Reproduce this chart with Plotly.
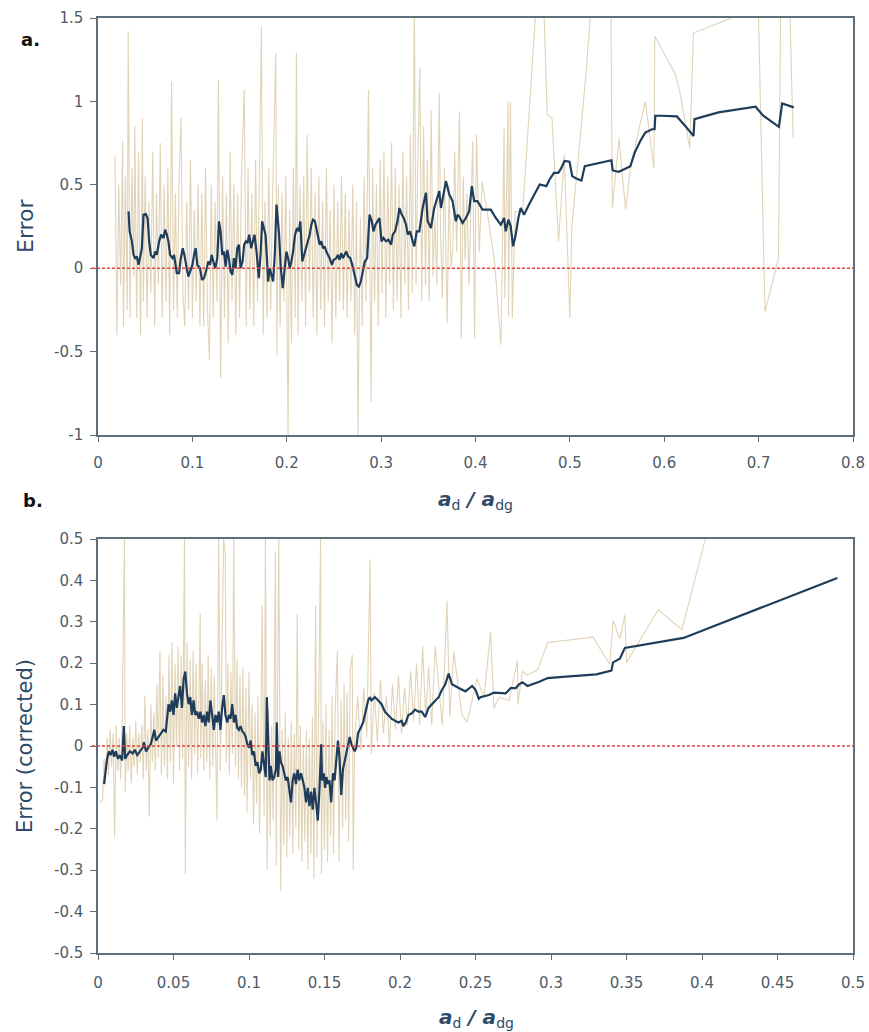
import plotly.graph_objects as go
from plotly.subplots import make_subplots

# ---------------- Panel a data ----------------
raw_a = [
    (0.018, 0.67), (0.020, -0.40), (0.022, 0.50), (0.024, -0.10), (0.026, 0.76), (0.027, -0.35), (0.029, 0.55),
    (0.031, -0.25), (0.032, 1.42), (0.034, -0.30), (0.036, 0.60), (0.038, -0.05), (0.039, 0.85), (0.041, -0.30),
    (0.043, 0.70), (0.045, -0.40), (0.047, 0.90), (0.048, -0.20), (0.050, 0.55), (0.052, -0.30), (0.054, 0.40),
    (0.056, -0.15), (0.058, 0.70), (0.060, -0.35), (0.062, 0.45), (0.064, -0.10), (0.066, 0.75), (0.068, -0.30),
    (0.070, 0.50), (0.072, -0.20), (0.074, 0.60), (0.076, -0.40), (0.078, 1.12), (0.080, -0.25), (0.082, 0.45),
    (0.084, -0.30), (0.086, 0.55), (0.088, 0.90), (0.090, -0.15), (0.092, -0.35), (0.094, 0.40), (0.096, -0.25),
    (0.098, 0.65), (0.100, -0.30), (0.102, 0.35), (0.104, -0.20), (0.106, 0.50), (0.108, -0.35), (0.110, 0.45),
    (0.112, -0.35), (0.114, 0.60), (0.116, -0.25), (0.118, -0.55), (0.120, 0.50), (0.122, -0.30), (0.124, 0.40),
    (0.126, -0.20), (0.1275, 1.13), (0.130, -0.66), (0.132, 0.55), (0.134, -0.30), (0.136, 0.45), (0.138, -0.45),
    (0.140, 0.70), (0.142, -0.20), (0.144, 0.50), (0.146, -0.40), (0.148, 0.45), (0.150, -0.30), (0.152, 0.55),
    (0.155, 1.07), (0.157, -0.35), (0.159, 0.60), (0.161, -0.25), (0.163, 0.45), (0.165, -0.35), (0.167, 0.65),
    (0.169, -0.20), (0.171, 0.55), (0.1732, 1.45), (0.175, -0.40), (0.177, 0.40), (0.179, -0.30), (0.181, 0.60),
    (0.183, -0.25), (0.185, 0.45), (0.1884, 1.29), (0.1895, -0.52), (0.191, 0.50), (0.193, -0.35), (0.195, 0.45),
    (0.197, -0.20), (0.199, 0.55), (0.2014, -1.00), (0.203, 0.35), (0.205, -0.45), (0.207, 0.60), (0.209, -0.30),
    (0.2102, 1.29), (0.212, -0.40), (0.214, 0.50), (0.216, -0.20), (0.218, 0.55), (0.220, -0.35), (0.2215, 0.80),
    (0.224, -0.15), (0.226, 0.60), (0.228, -0.30), (0.230, 0.45), (0.232, -0.40), (0.234, 0.55), (0.236, -0.25),
    (0.238, 0.40), (0.240, -0.35), (0.242, 0.60), (0.244, -0.20), (0.246, 0.35), (0.248, -0.45), (0.250, 0.50),
    (0.252, -0.30), (0.254, 0.40), (0.256, -0.20), (0.258, 0.55), (0.260, -0.25), (0.262, 0.45), (0.264, -0.30),
    (0.266, 0.35), (0.268, -0.20), (0.270, 0.50), (0.272, -0.40), (0.274, 0.40), (0.2754, -1.00), (0.278, 0.30),
    (0.280, -0.35), (0.282, 0.55), (0.284, -0.20), (0.2866, 1.07), (0.2894, -0.80), (0.291, 0.60), (0.293, -0.20),
    (0.295, 0.50), (0.297, -0.35), (0.299, 0.65), (0.301, -0.15), (0.303, 0.70), (0.305, -0.30), (0.307, 0.55),
    (0.309, -0.10), (0.311, 0.75), (0.313, -0.25), (0.315, 0.60), (0.317, -0.20), (0.319, 0.50), (0.321, -0.30),
    (0.323, 0.70), (0.325, -0.10), (0.327, 0.55), (0.329, -0.25), (0.331, 0.80), (0.333, -0.15), (0.3352, 1.60),
    (0.337, -0.10), (0.339, 0.70), (0.341, 1.20), (0.343, -0.20), (0.345, 0.85), (0.347, -0.10), (0.349, 0.65),
    (0.351, -0.20), (0.353, 0.95), (0.355, -0.05), (0.357, 0.30), (0.359, -0.10), (0.3616, 1.05), (0.363, 0.20),
    (0.365, -0.18), (0.367, 0.60), (0.370, -0.33), (0.372, 0.50), (0.374, 0.00), (0.376, 0.12), (0.378, 0.70),
    (0.380, 0.10), (0.383, 0.94), (0.385, -0.42), (0.387, 0.55), (0.389, 0.05), (0.391, 0.45), (0.393, -0.10),
    (0.395, 0.35), (0.397, 0.76), (0.399, -0.42), (0.401, 0.80), (0.404, 0.10), (0.407, 0.52), (0.412, 0.35),
    (0.420, 0.05), (0.427, -0.46), (0.429, 0.20), (0.4303, 0.84), (0.431, -0.18), (0.4345, 1.00), (0.435, -0.29),
    (0.437, 1.00), (0.439, -0.30), (0.442, 0.34), (0.450, 0.34), (0.467, 1.81), (0.471, 1.81), (0.476, 0.92),
    (0.481, 0.90), (0.488, 0.16), (0.494, 0.68), (0.500, -0.30), (0.502, 0.24), (0.517, 1.16), (0.527, 1.91),
    (0.543, 1.91), (0.545, 0.36), (0.552, 0.78), (0.559, 0.35), (0.564, 0.60), (0.571, 0.78), (0.580, 1.00),
    (0.589, 0.60), (0.590, 1.39), (0.612, 1.16), (0.617, 1.04), (0.627, 0.72), (0.631, 1.41), (0.671, 1.50),
    (0.698, 2.00), (0.7067, -0.26), (0.721, 0.06), (0.724, 2.00), (0.731, 2.00), (0.7366, 0.78),
]

mean_a = [
    (0.0324, 0.341), (0.0335, 0.221), (0.0359, 0.161), (0.0377, 0.080), (0.0394, 0.060), (0.0412, 0.070),
    (0.0430, 0.020), (0.0447, 0.080), (0.0465, 0.120), (0.0482, 0.321), (0.0507, 0.325), (0.0525, 0.301),
    (0.0542, 0.161), (0.0560, 0.080), (0.0588, 0.060), (0.0606, 0.100), (0.0623, 0.080), (0.0648, 0.161),
    (0.0669, 0.201), (0.0694, 0.181), (0.0711, 0.231), (0.0729, 0.201), (0.0746, 0.161), (0.0764, 0.080),
    (0.0789, 0.060), (0.0806, 0.080), (0.0835, -0.030), (0.0859, -0.030), (0.0877, 0.060), (0.0898, 0.120),
    (0.0915, 0.080), (0.0940, 0.000), (0.0958, -0.050), (0.0975, -0.020), (0.1000, 0.020), (0.1018, 0.080),
    (0.1035, 0.120), (0.1053, 0.020), (0.1081, 0.000), (0.1102, -0.070), (0.1123, -0.060), (0.1144, -0.020),
    (0.1169, 0.040), (0.1187, 0.020), (0.1204, 0.080), (0.1222, 0.040), (0.1243, 0.000), (0.1264, 0.060),
    (0.1282, 0.281), (0.1299, 0.221), (0.1317, 0.080), (0.1335, 0.100), (0.1352, 0.010), (0.1370, 0.110),
    (0.1387, 0.060), (0.1405, -0.020), (0.1423, -0.040), (0.1440, 0.060), (0.1458, 0.000), (0.1475, 0.120),
    (0.1493, 0.141), (0.1511, 0.000), (0.1532, 0.040), (0.1549, 0.141), (0.1567, 0.161), (0.1585, 0.151),
    (0.1602, 0.201), (0.1623, 0.120), (0.1641, 0.161), (0.1658, 0.201), (0.1680, 0.100), (0.1704, -0.060),
    (0.1722, 0.080), (0.1739, 0.281), (0.1757, 0.241), (0.1775, 0.201), (0.1792, 0.040), (0.1803, -0.080),
    (0.1820, 0.000), (0.1838, -0.040), (0.1856, -0.080), (0.1873, 0.080), (0.1891, 0.382), (0.1919, 0.201),
    (0.1937, 0.000), (0.1958, -0.120), (0.1979, 0.020), (0.1996, 0.100), (0.2014, 0.060), (0.2032, 0.000),
    (0.2049, 0.040), (0.2067, 0.100), (0.2088, 0.201), (0.2109, 0.241), (0.2127, 0.221), (0.2144, 0.281),
    (0.2165, 0.040), (0.2183, 0.080), (0.2201, 0.120), (0.2225, 0.161), (0.2243, 0.201), (0.2261, 0.261),
    (0.2278, 0.291), (0.2299, 0.281), (0.2313, 0.241), (0.2331, 0.201), (0.2349, 0.141), (0.2366, 0.161),
    (0.2384, 0.120), (0.2401, 0.131), (0.2419, 0.100), (0.2454, 0.060), (0.2479, 0.020), (0.2496, 0.050),
    (0.2525, 0.060), (0.2542, 0.080), (0.2560, 0.050), (0.2577, 0.090), (0.2595, 0.060), (0.2613, 0.080),
    (0.2630, 0.100), (0.2651, 0.070), (0.2673, 0.060), (0.2694, 0.020), (0.2718, -0.040), (0.2743, -0.100),
    (0.2764, -0.110), (0.2785, -0.080), (0.2806, -0.020), (0.2827, 0.040), (0.2852, 0.060), (0.2877, 0.321),
    (0.2901, 0.281), (0.2919, 0.221), (0.2940, 0.261), (0.2958, 0.281), (0.2982, 0.301), (0.3004, 0.161),
    (0.3025, 0.181), (0.3053, 0.161), (0.3077, 0.171), (0.3106, 0.141), (0.3123, 0.201), (0.3148, 0.221),
    (0.3173, 0.281), (0.3194, 0.361), (0.3218, 0.321), (0.3239, 0.301), (0.3264, 0.261), (0.3282, 0.201),
    (0.3306, 0.221), (0.3335, 0.161), (0.3352, 0.131), (0.3377, 0.221), (0.3405, 0.221), (0.3440, 0.361),
    (0.3475, 0.452), (0.3493, 0.281), (0.3528, 0.241), (0.3563, 0.361), (0.3616, 0.462), (0.3634, 0.361),
    (0.3669, 0.482), (0.3687, 0.522), (0.3722, 0.442), (0.3757, 0.402), (0.3792, 0.281), (0.3810, 0.321),
    (0.3827, 0.311), (0.3863, 0.271), (0.3898, 0.301), (0.3933, 0.341), (0.3961, 0.492), (0.3986, 0.402),
    (0.4021, 0.402), (0.4074, 0.351), (0.4162, 0.351), (0.4215, 0.301), (0.4268, 0.261), (0.4303, 0.301),
    (0.4320, 0.221), (0.4349, 0.291), (0.4373, 0.251), (0.4398, 0.131), (0.4426, 0.201), (0.4454, 0.301),
    (0.4479, 0.361), (0.4514, 0.321), (0.4567, 0.382), (0.4620, 0.442), (0.4680, 0.502), (0.4750, 0.492),
    (0.4785, 0.532), (0.4831, 0.572), (0.4877, 0.572), (0.4901, 0.592), (0.4944, 0.643), (0.4996, 0.639),
    (0.5025, 0.552), (0.5067, 0.538), (0.5123, 0.526), (0.5158, 0.612), (0.5440, 0.647), (0.5454, 0.586),
    (0.5518, 0.578), (0.5570, 0.592), (0.5641, 0.612), (0.5687, 0.693), (0.5746, 0.763), (0.5799, 0.813),
    (0.5870, 0.833), (0.5898, 0.833), (0.5905, 0.914), (0.5975, 0.914), (0.6134, 0.910), (0.6222, 0.853),
    (0.6310, 0.793), (0.6320, 0.894), (0.6574, 0.934), (0.6968, 0.968), (0.7049, 0.914), (0.7215, 0.847),
    (0.7250, 0.988), (0.7373, 0.964),
]

# ---------------- Panel b data ----------------
raw_b = [
    (0.001, -0.136), (0.003, -0.13), (0.004, -0.03), (0.005, -0.09), (0.006, 0.02), (0.007, -0.07), (0.008, 0.04),
    (0.009, -0.05), (0.010, 0.03), (0.011, -0.22), (0.012, 0.05), (0.013, -0.06), (0.014, 0.02), (0.015, -0.08),
    (0.016, 0.06), (0.0175, 0.50), (0.018, -0.11), (0.019, 0.03), (0.020, -0.06), (0.021, 0.05), (0.022, -0.09),
    (0.023, 0.02), (0.024, -0.05), (0.025, 0.06), (0.026, -0.07), (0.027, 0.03), (0.028, -0.04), (0.029, 0.05),
    (0.030, -0.08), (0.031, 0.12), (0.032, -0.06), (0.033, 0.04), (0.034, -0.17), (0.035, 0.10), (0.036, -0.04),
    (0.037, 0.08), (0.038, -0.06), (0.039, 0.15), (0.040, -0.03), (0.041, 0.23), (0.042, -0.07), (0.043, 0.17),
    (0.044, -0.05), (0.045, 0.12), (0.046, -0.08), (0.047, 0.22), (0.048, -0.04), (0.049, 0.25), (0.050, -0.09),
    (0.051, 0.20), (0.052, 0.00), (0.053, 0.24), (0.054, -0.06), (0.055, 0.22), (0.056, -0.03), (0.0573, 0.50),
    (0.0578, -0.31), (0.059, 0.25), (0.060, -0.05), (0.061, 0.21), (0.062, -0.08), (0.063, 0.23), (0.064, -0.02),
    (0.065, 0.20), (0.066, -0.07), (0.0677, 0.32), (0.068, -0.03), (0.069, 0.20), (0.070, -0.06), (0.071, 0.16),
    (0.072, -0.04), (0.073, 0.22), (0.074, -0.08), (0.075, 0.19), (0.076, -0.05), (0.077, 0.17), (0.0788, -0.18),
    (0.0799, 0.50), (0.081, -0.06), (0.0832, 0.50), (0.0843, 0.46), (0.085, -0.04), (0.086, 0.20), (0.087, -0.07),
    (0.088, 0.18), (0.089, -0.02), (0.0899, 0.50), (0.091, -0.05), (0.092, 0.21), (0.093, -0.08), (0.094, 0.17),
    (0.095, -0.10), (0.096, 0.19), (0.097, -0.12), (0.098, 0.14), (0.0987, -0.16), (0.100, 0.18), (0.101, -0.08),
    (0.102, 0.10), (0.103, -0.19), (0.104, 0.08), (0.105, -0.14), (0.106, 0.12), (0.107, -0.21), (0.108, 0.06),
    (0.1087, 0.34), (0.110, -0.17), (0.1109, 0.50), (0.112, -0.30), (0.113, 0.09), (0.114, -0.22), (0.115, 0.05),
    (0.116, -0.18), (0.1175, 0.47), (0.118, -0.29), (0.119, 0.10), (0.1197, 0.50), (0.121, -0.35), (0.122, 0.04),
    (0.123, -0.24), (0.124, 0.08), (0.125, -0.27), (0.126, 0.02), (0.127, -0.22), (0.128, 0.06), (0.129, -0.26),
    (0.130, 0.03), (0.131, -0.20), (0.1319, 0.32), (0.133, -0.25), (0.134, 0.05), (0.135, -0.28), (0.136, 0.00),
    (0.137, -0.23), (0.138, 0.04), (0.139, -0.30), (0.140, 0.02), (0.141, -0.26), (0.142, 0.07), (0.143, -0.32),
    (0.1441, 0.34), (0.145, -0.27), (0.146, 0.03), (0.1474, 0.50), (0.148, -0.31), (0.149, 0.06), (0.150, -0.25),
    (0.151, 0.10), (0.152, -0.28), (0.153, 0.04), (0.154, -0.22), (0.155, 0.12), (0.156, -0.26), (0.157, 0.08),
    (0.1585, 0.23), (0.1596, -0.28), (0.161, 0.11), (0.162, -0.20), (0.163, 0.15), (0.164, -0.18), (0.165, 0.13),
    (0.166, -0.23), (0.167, 0.18), (0.1684, 0.22), (0.169, -0.30), (0.170, 0.02), (0.172, 0.12), (0.174, -0.01),
    (0.176, 0.14), (0.178, 0.02), (0.1802, 0.45), (0.181, -0.02), (0.183, 0.13), (0.185, 0.01), (0.187, 0.16),
    (0.189, 0.03), (0.191, 0.12), (0.193, 0.00), (0.195, 0.15), (0.197, 0.04), (0.199, 0.17), (0.201, 0.03),
    (0.203, 0.14), (0.205, 0.05), (0.207, 0.18), (0.209, 0.06), (0.211, 0.20), (0.213, 0.05), (0.215, 0.24),
    (0.217, 0.07), (0.219, 0.19), (0.221, 0.05), (0.2233, 0.24), (0.228, 0.05), (0.2311, 0.35), (0.233, 0.07),
    (0.2356, 0.228), (0.2411, 0.075), (0.2444, 0.057), (0.2511, 0.162), (0.2556, 0.118), (0.2600, 0.276),
    (0.2622, 0.092), (0.2656, 0.118), (0.2722, 0.110), (0.2778, 0.206), (0.2780, 0.100), (0.2811, 0.180),
    (0.2844, 0.171), (0.2911, 0.184), (0.2978, 0.250), (0.3278, 0.263), (0.3389, 0.197), (0.3411, 0.303),
    (0.3456, 0.259), (0.3489, 0.316), (0.3500, 0.202), (0.3711, 0.329), (0.3867, 0.281), (0.4022, 0.500),
    (0.4150, 0.800),
]

mean_b = [
    (0.0040, -0.092), (0.0051, -0.057), (0.0060, -0.031), (0.0073, -0.013), (0.0084, -0.022), (0.0096, -0.009),
    (0.0107, -0.026), (0.0118, -0.013), (0.0133, -0.031), (0.0144, -0.022), (0.0160, -0.035), (0.0171, 0.048),
    (0.0180, -0.031), (0.0193, -0.022), (0.0211, -0.013), (0.0229, -0.018), (0.0244, -0.009), (0.0260, -0.022),
    (0.0278, -0.013), (0.0296, -0.004), (0.0304, 0.009), (0.0318, -0.013), (0.0333, -0.004), (0.0349, 0.004),
    (0.0362, 0.022), (0.0373, 0.039), (0.0384, 0.013), (0.0400, 0.022), (0.0416, 0.031), (0.0433, 0.039),
    (0.0449, 0.035), (0.0460, 0.075), (0.0467, 0.101), (0.0478, 0.083), (0.0489, 0.110), (0.0500, 0.075),
    (0.0511, 0.127), (0.0522, 0.092), (0.0533, 0.118), (0.0544, 0.145), (0.0556, 0.092), (0.0567, 0.162),
    (0.0578, 0.180), (0.0589, 0.127), (0.0600, 0.101), (0.0611, 0.118), (0.0622, 0.075), (0.0633, 0.110),
    (0.0644, 0.075), (0.0656, 0.083), (0.0667, 0.066), (0.0678, 0.083), (0.0689, 0.057), (0.0700, 0.075),
    (0.0711, 0.048), (0.0722, 0.083), (0.0733, 0.057), (0.0744, 0.110), (0.0756, 0.075), (0.0767, 0.039),
    (0.0778, 0.075), (0.0789, 0.057), (0.0800, 0.083), (0.0811, 0.039), (0.0822, 0.092), (0.0833, 0.123),
    (0.0844, 0.075), (0.0856, 0.057), (0.0867, 0.075), (0.0878, 0.066), (0.0889, 0.101), (0.0900, 0.057),
    (0.0911, 0.075), (0.0922, 0.044), (0.0933, 0.039), (0.0944, 0.048), (0.0956, 0.035), (0.0967, 0.031),
    (0.0978, 0.022), (0.0989, 0.004), (0.1000, -0.004), (0.1011, 0.013), (0.1022, -0.022), (0.1033, -0.013),
    (0.1044, -0.048), (0.1056, -0.039), (0.1067, -0.066), (0.1078, -0.057), (0.1089, -0.013), (0.1100, -0.039),
    (0.1111, -0.075), (0.1118, 0.118), (0.1127, 0.022), (0.1136, -0.083), (0.1144, -0.048), (0.1156, -0.083),
    (0.1167, -0.075), (0.1178, -0.057), (0.1184, 0.057), (0.1193, -0.075), (0.1202, -0.013), (0.1211, -0.039),
    (0.1222, -0.048), (0.1233, -0.066), (0.1244, -0.083), (0.1256, -0.075), (0.1267, -0.101), (0.1278, -0.136),
    (0.1289, -0.083), (0.1300, -0.066), (0.1311, -0.092), (0.1322, -0.057), (0.1333, -0.083), (0.1344, -0.066),
    (0.1356, -0.083), (0.1367, -0.101), (0.1378, -0.136), (0.1389, -0.101), (0.1400, -0.145), (0.1411, -0.110),
    (0.1422, -0.154), (0.1433, -0.101), (0.1444, -0.136), (0.1456, -0.180), (0.1467, -0.101), (0.1478, 0.004),
    (0.1484, -0.083), (0.1496, -0.066), (0.1504, -0.101), (0.1513, -0.075), (0.1522, -0.092), (0.1533, -0.083),
    (0.1544, -0.136), (0.1556, -0.066), (0.1567, -0.083), (0.1578, -0.039), (0.1589, 0.013), (0.1600, -0.031),
    (0.1611, -0.118), (0.1622, -0.057), (0.1633, -0.039), (0.1644, -0.013), (0.1656, 0.004), (0.1667, 0.022),
    (0.1678, 0.004), (0.1689, -0.004), (0.1700, -0.013), (0.1711, -0.004), (0.1722, 0.031), (0.1740, 0.044),
    (0.1756, 0.057), (0.1767, 0.075), (0.1778, 0.092), (0.1789, 0.110), (0.1800, 0.118), (0.1811, 0.110),
    (0.1822, 0.114), (0.1833, 0.118), (0.1856, 0.110), (0.1878, 0.101), (0.1900, 0.083), (0.1922, 0.075),
    (0.1944, 0.066), (0.1967, 0.061), (0.1989, 0.057), (0.2011, 0.061), (0.2022, 0.048), (0.2038, 0.057),
    (0.2056, 0.075), (0.2078, 0.079), (0.2100, 0.088), (0.2122, 0.083), (0.2144, 0.083), (0.2167, 0.070),
    (0.2189, 0.092), (0.2222, 0.105), (0.2256, 0.118), (0.2278, 0.136), (0.2300, 0.149), (0.2322, 0.175),
    (0.2333, 0.162), (0.2344, 0.149), (0.2389, 0.140), (0.2433, 0.132), (0.2478, 0.145), (0.2500, 0.136),
    (0.2522, 0.114), (0.2533, 0.118), (0.2589, 0.123), (0.2622, 0.129), (0.2700, 0.127), (0.2733, 0.140),
    (0.2767, 0.140), (0.2789, 0.149), (0.2811, 0.154), (0.2844, 0.145), (0.2922, 0.155), (0.2978, 0.164),
    (0.3078, 0.167), (0.3300, 0.173), (0.3400, 0.182), (0.3411, 0.202), (0.3456, 0.211), (0.3489, 0.237),
    (0.3878, 0.261), (0.4896, 0.406),
]

# ---------------- Axis ticks ----------------
a_xticks = [0, 0.1, 0.2, 0.3, 0.4, 0.5, 0.6, 0.7, 0.8]
a_xtext = ["0", "0.1", "0.2", "0.3", "0.4", "0.5", "0.6", "0.7", "0.8"]
a_yticks = [-1, -0.5, 0, 0.5, 1, 1.5]
a_ytext = ["-1", "-0.5", "0", "0.5", "1", "1.5"]
b_xticks = [0, 0.05, 0.1, 0.15, 0.2, 0.25, 0.3, 0.35, 0.4, 0.45, 0.5]
b_xtext = ["0", "0.05", "0.1", "0.15", "0.2", "0.25", "0.3", "0.35", "0.4", "0.45", "0.5"]
b_yticks = [-0.5, -0.4, -0.3, -0.2, -0.1, 0, 0.1, 0.2, 0.3, 0.4, 0.5]
b_ytext = ["-0.5", "-0.4", "-0.3", "-0.2", "-0.1", "0", "0.1", "0.2", "0.3", "0.4", "0.5"]

RAW_COLOR = "rgba(205,182,135,0.6)"
MEAN_COLOR = "#1f3d5a"
ZERO_COLOR = "#e2423b"
AXIS_COLOR = "#5d6e7c"
TICK_FONT = dict(family="DejaVu Sans", size=15, color="#4f5b66")
TITLE_COLOR = "#2d4b68"

W, H = 869, 1032
ML, MR, MT, MB = 98, 16, 18, 79
PH = H - MT - MB
PW = W - ML - MR

def py(px_y):
    return (H - MB - px_y) / PH

def px(px_x):
    return (px_x - ML) / PW

fig = make_subplots(rows=2, cols=1)

for row, raw, mean in ((1, raw_a, mean_a), (2, raw_b, mean_b)):
    fig.add_trace(go.Scatter(x=[p[0] for p in raw], y=[p[1] for p in raw], mode="lines",
                             line=dict(color=RAW_COLOR, width=1.1), hoverinfo="skip",
                             showlegend=False), row=row, col=1)
    fig.add_trace(go.Scatter(x=[p[0] for p in mean], y=[p[1] for p in mean], mode="lines",
                             line=dict(color=MEAN_COLOR, width=2.2), showlegend=False),
                  row=row, col=1)

axis_common = dict(showline=True, linecolor=AXIS_COLOR, linewidth=1.5, mirror=True,
                   ticks="outside", tickcolor=AXIS_COLOR, tickwidth=1.3, showgrid=False,
                   zeroline=False, tickfont=TICK_FONT, automargin=False)

fig.update_layout(
    width=W, height=H, margin=dict(l=ML, r=MR, t=MT, b=MB, autoexpand=False),
    paper_bgcolor="white", plot_bgcolor="white", showlegend=False,
    xaxis=dict(domain=[0, 1], range=[0, 0.8], tickvals=a_xticks, ticktext=a_xtext, ticklen=5,
               ticklabelstandoff=8, **axis_common),
    yaxis=dict(domain=[py(435), 1], range=[-1, 1.5], tickvals=a_yticks, ticktext=a_ytext, ticklen=6,
               ticklabelstandoff=4, **axis_common),
    xaxis2=dict(domain=[0, 1], range=[0, 0.5], tickvals=b_xticks, ticktext=b_xtext, ticklen=5,
                ticklabelstandoff=10, **axis_common),
    yaxis2=dict(domain=[0, py(539)], range=[-0.5, 0.5], tickvals=b_yticks, ticktext=b_ytext, ticklen=6,
                ticklabelstandoff=4, **axis_common),
)

# zero reference lines
fig.add_shape(type="line", xref="x domain", yref="y", x0=-0.008, x1=1, y0=0, y1=0,
              line=dict(color=ZERO_COLOR, width=1.6, dash="3px,2px"))
fig.add_shape(type="line", xref="x2 domain", yref="y2", x0=-0.008, x1=1, y0=0, y1=0,
              line=dict(color=ZERO_COLOR, width=1.6, dash="3px,2px"))

xtitle = "<b><i>a</i></b><sub>d</sub><b><i> / a</i></b><sub>dg</sub>"
ann = [
    dict(text="Error", x=px(26), y=py(226), textangle=-90, size=22),
    dict(text="Error (corrected)", x=px(25), y=py(746), textangle=-90, size=21),
    dict(text=xtitle, x=px(475), y=py(500), textangle=0, size=20),
    dict(text=xtitle, x=px(476), y=py(1018), textangle=0, size=20),
]
for a in ann:
    size = a.pop("size")
    fig.add_annotation(xref="paper", yref="paper", xanchor="center", yanchor="middle",
                       showarrow=False, font=dict(family="DejaVu Sans", size=size, color=TITLE_COLOR), **a)

fig.add_annotation(text="<b>a.</b>", xref="paper", yref="paper", x=px(19), y=py(39),
                   xanchor="left", yanchor="middle", showarrow=False,
                   font=dict(family="DejaVu Sans", size=18, color="#111111"))
fig.add_annotation(text="<b>b.</b>", xref="paper", yref="paper", x=px(21), y=py(500),
                   xanchor="left", yanchor="middle", showarrow=False,
                   font=dict(family="DejaVu Sans", size=18, color="#111111"))

fig.write_html("out.html", config={"displayModeBar": False},
               post_script="document.body.style.margin='0';document.body.style.overflow='hidden';")
